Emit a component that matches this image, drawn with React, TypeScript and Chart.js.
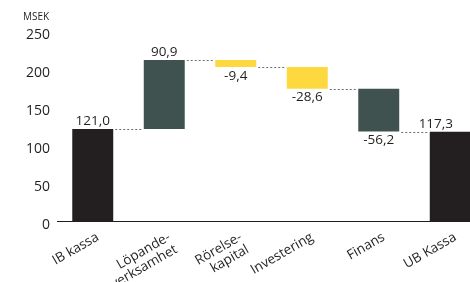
import React, { useEffect, useRef } from "react";
import { Chart, registerables } from "chart.js";

Chart.register(...registerables);

const categories: string[][] = [
  ["IB kassa"],
  ["Löpande-", "verksamhet"],
  ["Rörelse-", "kapital"],
  ["Investering"],
  ["Finans"],
  ["UB Kassa"],
];
const amounts: number[] = [121.0, 90.9, -9.4, -28.6, -56.2, 117.3];
const isTotal: boolean[] = [true, false, false, false, false, true];
const yTicks: number[] = [0, 50, 100, 150, 200, 250];
const unitLabel = "MSEK";

const TOTAL_COLOR = "#231f20";
const UP_DOWN_COLOR = "#3f524f";
const SMALL_DOWN_COLOR = "#fdd83e";
const barColors = [TOTAL_COLOR, UP_DOWN_COLOR, SMALL_DOWN_COLOR, SMALL_DOWN_COLOR, UP_DOWN_COLOR, TOTAL_COLOR];

const FONT = "'Open Sans', 'Noto Sans', sans-serif";
const VISIBLE_W = 470;

function buildRanges(): [number, number][] {
  let run = 0;
  return amounts.map((v, i) => {
    if (isTotal[i]) {
      run = v;
      return [0, v];
    }
    const r: [number, number] = [run, run + v];
    run += v;
    return r;
  });
}

const fmt = (v: number) => v.toFixed(1).replace(".", ",");

const overlayPlugin = {
  id: "waterfallOverlay",
  afterDatasetsDraw(chart: any) {
    const ctx = chart.ctx;
    const meta = chart.getDatasetMeta(0);
    const yScale = chart.scales.y;
    const ranges = chart.data.datasets[0].data as [number, number][];
    ctx.save();
    // connectors
    ctx.strokeStyle = "#6f6f6f";
    ctx.lineWidth = 1;
    ctx.setLineDash([2, 2]);
    for (let i = 0; i < meta.data.length - 1; i++) {
      const a = meta.data[i];
      const b = meta.data[i + 1];
      const level = ranges[i][1];
      const y = Math.round(yScale.getPixelForValue(level)) + 0.5;
      ctx.beginPath();
      ctx.moveTo(a.x + a.width / 2 + 2, y);
      ctx.lineTo(b.x - b.width / 2 - 2, y);
      ctx.stroke();
    }
    ctx.setLineDash([]);
    // value labels
    ctx.fillStyle = "#231f20";
    ctx.font = `13.5px ${FONT}`;
    ctx.textAlign = "center";
    meta.data.forEach((el: any, i: number) => {
      const text = fmt(amounts[i]);
      const w = ctx.measureText(text).width;
      const x = Math.min(el.x, VISIBLE_W - 17 - w / 2);
      const top = Math.min(el.y, el.base);
      const bottom = Math.max(el.y, el.base);
      if (amounts[i] >= 0) {
        ctx.textBaseline = "bottom";
        ctx.fillText(text, x, top - 1);
      } else {
        ctx.textBaseline = "top";
        ctx.fillText(text, x, bottom + 2);
      }
    });
    // unit label
    ctx.font = `10px ${FONT}`;
    ctx.textAlign = "left";
    ctx.textBaseline = "middle";
    ctx.fillText(unitLabel, 23, 17);
    ctx.restore();
  },
};

export default function App() {
  const ref = useRef<HTMLCanvasElement>(null);
  useEffect(() => {
    if (!ref.current) return;
    const chart = new Chart(ref.current, {
      type: "bar",
      data: {
        labels: categories,
        datasets: [
          {
            data: buildRanges() as any,
            backgroundColor: barColors,
            borderWidth: 0,
            barPercentage: 0.573,
            categoryPercentage: 1,
          },
        ],
      },
      options: {
        animation: false,
        responsive: false,
        devicePixelRatio: 1,
        layout: { padding: { top: 31, left: 0, right: 0, bottom: 0 } },
        plugins: {
          legend: { display: false },
          tooltip: { enabled: false },
        },
        scales: {
          x: {
            grid: { display: false, drawTicks: false },
            border: { display: true, color: "#231f20", width: 1 },
            ticks: {
              autoSkip: false,
              minRotation: 30,
              maxRotation: 30,
              padding: 9,
              labelOffset: 5,
              color: "#231f20",
              font: { family: FONT, size: 13.5, lineHeight: 1.05 },
            },
            afterFit: (s: any) => {
              s.height = 61;
            },
          },
          y: {
            min: 0,
            max: 250,
            grid: { display: false, drawTicks: false },
            border: { display: false },
            afterBuildTicks: (s: any) => {
              s.ticks = yTicks.map((v) => ({ value: v }));
            },
            ticks: {
              padding: 7,
              labelOffset: 4,
              color: "#231f20",
              font: { family: FONT, size: 14 },
            },
            afterFit: (s: any) => {
              s.width = 57;
            },
          },
        },
      },
      plugins: [overlayPlugin],
    });
    return () => chart.destroy();
  }, []);
  return (
    <div
      style={{
        position: "fixed",
        left: 0,
        top: 0,
        width: VISIBLE_W,
        height: 282,
        overflow: "hidden",
        background: "#fff",
      }}
    >
      <canvas ref={ref} width={486} height={282} style={{ display: "block" }} />
    </div>
  );
}
